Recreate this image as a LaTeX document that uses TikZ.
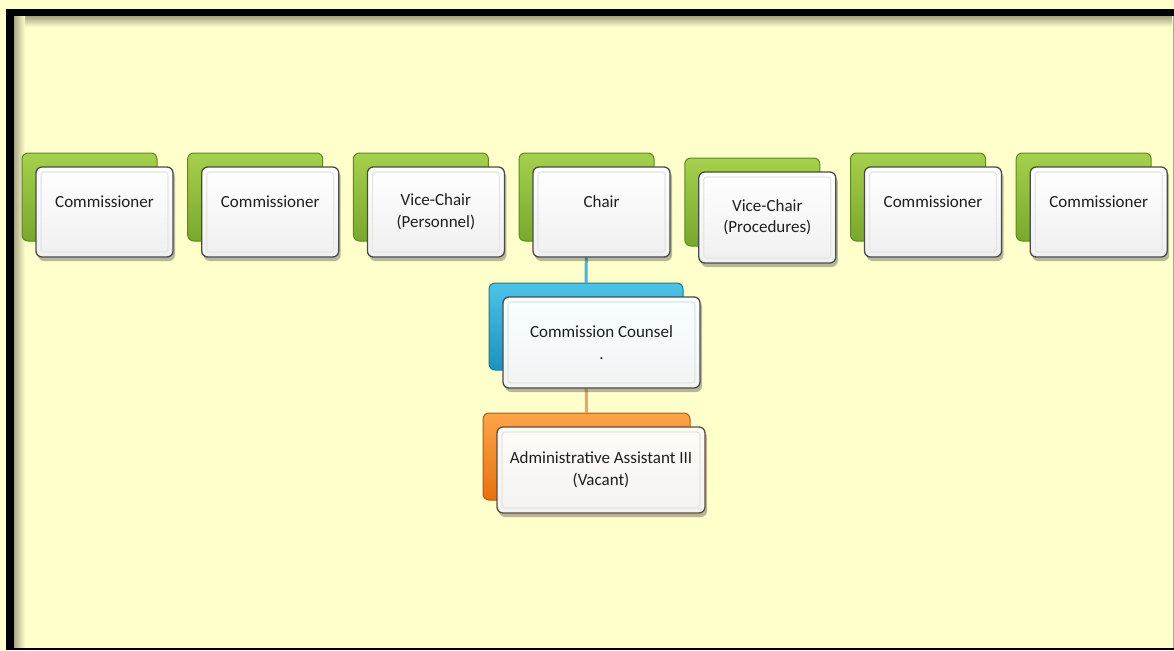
\documentclass[tikz,border=0pt]{standalone}
\usepackage{fontspec}
\setmainfont{Carlito}
\usetikzlibrary{shadows}
\definecolor{bgyel}{HTML}{FFFFCC}
\definecolor{shadyel}{HTML}{A9A784}
\definecolor{grnL}{HTML}{A6D04C}
\definecolor{grnD}{HTML}{78A82E}
\definecolor{grnE}{HTML}{5B8A1C}
\definecolor{bluL}{HTML}{4CC3E6}
\definecolor{bluD}{HTML}{1D92BD}
\definecolor{bluE}{HTML}{17789C}
\definecolor{orgL}{HTML}{FCA449}
\definecolor{orgD}{HTML}{E6720E}
\definecolor{orgE}{HTML}{B95A08}
\definecolor{edge}{HTML}{4A4A4A}
\definecolor{txt}{HTML}{1E1E1E}
\definecolor{linkblue}{HTML}{46B4DA}
\definecolor{linkorg}{HTML}{F4A263}
\tikzset{
  backbox/.style={rectangle, rounded corners=6pt, anchor=north west, inner sep=0pt, outer sep=0pt, line width=1pt},
  greenback/.style={backbox, top color=grnL, bottom color=grnD, draw=grnE},
  blueback/.style={backbox, top color=bluL, bottom color=bluD, draw=bluE},
  orangeback/.style={backbox, top color=orgL, bottom color=orgD, draw=orgE},
  frontbox/.style={rectangle, rounded corners=6pt, anchor=north west, inner sep=0pt, outer sep=0pt,
    draw=edge, line width=1.3pt, align=center, text=txt,
    font=\fontsize{17}{21.5}\selectfont,
    drop shadow={shadow xshift=2pt, shadow yshift=-4pt, opacity=0.35, fill=black!80},
    path picture={\draw[white!80!gray, line width=1.2pt, rounded corners=3pt]
      ([shift={(5pt,-5pt)}]path picture bounding box.north west) rectangle
      ([shift={(-5pt,5pt)}]path picture bounding box.south east);}},
  whitefront/.style={frontbox, top color=white, bottom color=black!6},
  bluefront/.style={frontbox, top color=cyan!3, bottom color=cyan!8!black!5},
  orangefront/.style={frontbox, top color=orange!3, bottom color=orange!9!black!5, draw=edge!80!orgE},
  link/.style={line width=3pt}
}
\begin{document}
\begin{tikzpicture}[x=1pt,y=-1pt]
\useasboundingbox (0,0) rectangle (1174,650);
% background and frame
\fill[bgyel] (0,0) rectangle (1174,650);
\shade[top color=shadyel, bottom color=bgyel] (14,16.5) rectangle (1172,27);
\shade[left color=shadyel, right color=bgyel] (14,16.5) rectangle (25,648);
\fill[black] (6,9) rectangle (1174,16.5);
\fill[black] (6,9) rectangle (14,650);
\fill[black] (6,647.5) rectangle (1174,650);
\fill[black!35] (1172.5,16.5) rectangle (1174,648);
% back boxes
\node[greenback, minimum width=135pt, minimum height=88pt] (b1) at (22,153) {};
\node[greenback, minimum width=135pt, minimum height=88pt] (b2) at (187.7,153) {};
\node[greenback, minimum width=135pt, minimum height=88pt] (b3) at (353.4,153) {};
\node[greenback, minimum width=135pt, minimum height=88pt] (b4) at (519,153) {};
\node[greenback, minimum width=135pt, minimum height=88pt] (b5) at (684.8,158) {};
\node[greenback, minimum width=135pt, minimum height=88pt] (b6) at (850.5,153) {};
\node[greenback, minimum width=135pt, minimum height=88pt] (b7) at (1016.2,153) {};
\node[blueback, minimum width=194pt, minimum height=87pt] (bc) at (489,283) {};
\node[orangeback, minimum width=207pt, minimum height=87pt] (ba) at (483,413) {};
% connectors
\draw[link, linkblue] (b4.south) -- (bc.north);
\draw[link, linkorg] (bc.south) -- (ba.north);
% front boxes
\node[whitefront, minimum width=137pt, minimum height=90pt] (f1) at (36,167) {Commissioner\\\mbox{}};
\node[whitefront, minimum width=137pt, minimum height=90pt] (f2) at (201.7,167) {Commissioner\\\mbox{}};
\node[whitefront, minimum width=137pt, minimum height=90pt] (f3) at (367.4,167) {Vice-Chair\\(Personnel)};
\node[whitefront, minimum width=137pt, minimum height=90pt] (f4) at (533,167) {Chair\\\mbox{}};
\node[whitefront, minimum width=137pt, minimum height=91pt] (f5) at (698.8,172) {Vice-Chair\\(Procedures)};
\node[whitefront, minimum width=137pt, minimum height=90pt] (f6) at (864.5,167) {Commissioner\\\mbox{}};
\node[whitefront, minimum width=137pt, minimum height=90pt] (f7) at (1030.2,167) {Commissioner\\\mbox{}};
\node[bluefront, minimum width=197pt, minimum height=91pt] (fc) at (503,297) {Commission Counsel\\.};
\node[orangefront, minimum width=208pt, minimum height=86pt] (fa) at (497,427) {Administrative Assistant III\\(Vacant)};
\end{tikzpicture}
\end{document}
